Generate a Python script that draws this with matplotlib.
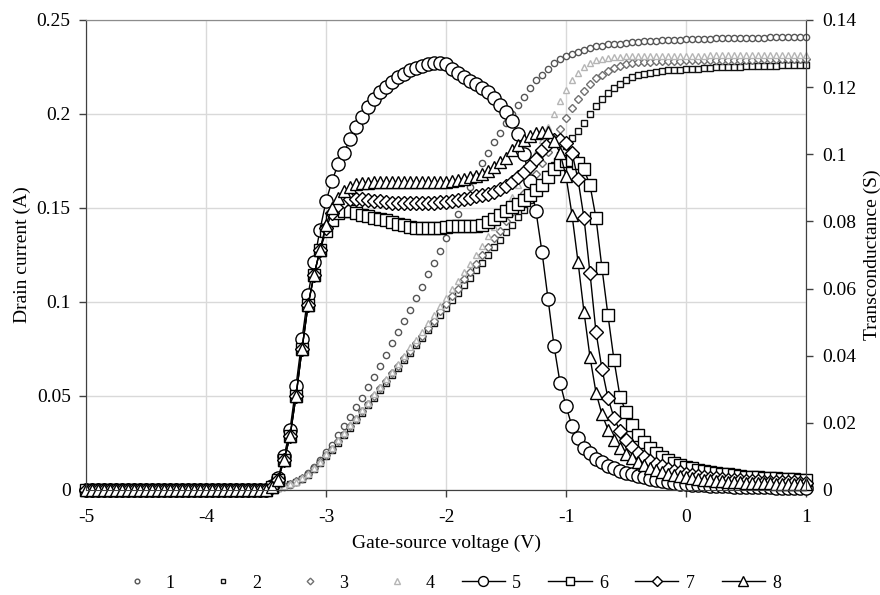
import numpy as np
import matplotlib
matplotlib.use('Agg')
import matplotlib.pyplot as plt

plt.rcParams['font.family'] = ['Liberation Serif', 'DejaVu Serif']

# gate-source voltage sweep, 50 mV steps
vgs = np.round(np.arange(-5.0, 1.0001, 0.05), 2)

# drain current (A), curves 1-4; flat at zero up to -3.5 V
id_1 = [0.0] * 31 + [
    0.0003, 0.0008, 0.0015, 0.0025, 0.004, 0.006, 0.009, 0.012, 0.016, 0.020,
    0.024, 0.029, 0.034, 0.039, 0.044, 0.049, 0.055, 0.060, 0.066, 0.072,
    0.078, 0.084, 0.090, 0.096, 0.102, 0.108, 0.115, 0.121, 0.127, 0.134,
    0.140, 0.147, 0.154, 0.161, 0.167, 0.174, 0.179, 0.185, 0.190, 0.195,
    0.200, 0.205, 0.209, 0.214, 0.218, 0.221, 0.224, 0.227, 0.229, 0.231,
    0.232, 0.233, 0.234, 0.235, 0.236, 0.236, 0.237, 0.237, 0.2375, 0.238,
    0.2382, 0.2385, 0.2387, 0.2389, 0.239, 0.2392, 0.2393, 0.2395, 0.2396, 0.2397,
    0.2398, 0.2399, 0.240, 0.2401, 0.2402, 0.2402, 0.2403, 0.2404, 0.2404, 0.2405,
    0.2405, 0.2406, 0.2406, 0.2407, 0.2407, 0.2408, 0.2408, 0.2409, 0.2409, 0.241]
id_2 = [0.0] * 31 + [
    0.0005, 0.0012, 0.002, 0.003, 0.0045, 0.006, 0.008, 0.011, 0.0145, 0.018,
    0.0215, 0.025, 0.029, 0.033, 0.037, 0.041, 0.045, 0.049, 0.053, 0.057,
    0.061, 0.065, 0.069, 0.073, 0.077, 0.081, 0.085, 0.089, 0.093, 0.097,
    0.101, 0.105, 0.109, 0.113, 0.117, 0.121, 0.125, 0.129, 0.133, 0.137,
    0.141, 0.145, 0.149, 0.154, 0.158, 0.163, 0.168, 0.173, 0.178, 0.183,
    0.187, 0.191, 0.195, 0.200, 0.204, 0.208, 0.211, 0.214, 0.216, 0.218,
    0.2195, 0.2205, 0.2215, 0.222, 0.2225, 0.223, 0.2232, 0.2234, 0.2236, 0.2238,
    0.224, 0.2242, 0.2244, 0.2246, 0.2248, 0.2249, 0.225, 0.2251, 0.2252, 0.2253,
    0.2254, 0.2255, 0.2256, 0.2256, 0.2257, 0.2258, 0.2258, 0.2259, 0.2259, 0.226]
id_3 = [0.0] * 31 + [
    0.0005, 0.0013, 0.0022, 0.0033, 0.0048, 0.0065, 0.0087, 0.0115, 0.015, 0.0185,
    0.022, 0.026, 0.030, 0.034, 0.038, 0.042, 0.046, 0.050, 0.054, 0.058,
    0.062, 0.066, 0.070, 0.074, 0.078, 0.082, 0.086, 0.090, 0.095, 0.099,
    0.103, 0.107, 0.112, 0.116, 0.120, 0.125, 0.129, 0.134, 0.138, 0.143,
    0.148, 0.153, 0.158, 0.163, 0.168, 0.174, 0.180, 0.186, 0.192, 0.198,
    0.203, 0.208, 0.212, 0.216, 0.219, 0.221, 0.223, 0.2245, 0.2255, 0.2265,
    0.227, 0.2274, 0.2277, 0.2279, 0.228, 0.2281, 0.2282, 0.2283, 0.2284, 0.2285,
    0.2285, 0.2286, 0.2286, 0.2287, 0.2287, 0.2288, 0.2288, 0.2288, 0.2289, 0.2289,
    0.2289, 0.229, 0.229, 0.229, 0.229, 0.2291, 0.2291, 0.2291, 0.2291, 0.2292]
id_4 = [0.0] * 31 + [
    0.0004, 0.001, 0.002, 0.003, 0.0045, 0.0062, 0.0085, 0.0115, 0.015, 0.019,
    0.0225, 0.0265, 0.0305, 0.0345, 0.0385, 0.0425, 0.0465, 0.051, 0.055, 0.059,
    0.063, 0.067, 0.0715, 0.076, 0.080, 0.084, 0.089, 0.093, 0.098, 0.102,
    0.107, 0.111, 0.116, 0.120, 0.125, 0.130, 0.135, 0.140, 0.145, 0.151,
    0.156, 0.162, 0.168, 0.174, 0.180, 0.186, 0.193, 0.200, 0.207, 0.213,
    0.218, 0.222, 0.225, 0.227, 0.2285, 0.2295, 0.230, 0.2303, 0.2305, 0.2306,
    0.2307, 0.2308, 0.2308, 0.2309, 0.2309, 0.231, 0.231, 0.231, 0.231, 0.231,
    0.2311, 0.2311, 0.2311, 0.2312, 0.2312, 0.2312, 0.2312, 0.2313, 0.2313, 0.2313,
    0.2313, 0.2314, 0.2314, 0.2314, 0.2314, 0.2315, 0.2315, 0.2315, 0.2315, 0.2315]

# transconductance (S), curves 5-8
gm_5 = [0.0] * 31 + [
    0.0012, 0.0035, 0.010, 0.018, 0.031, 0.045, 0.058, 0.068, 0.0775, 0.086,
    0.092, 0.097, 0.1005, 0.1045, 0.108, 0.111, 0.114, 0.1165, 0.1185, 0.120,
    0.1215, 0.123, 0.124, 0.125, 0.1257, 0.1263, 0.1268, 0.1271, 0.1272, 0.127,
    0.1255, 0.1243, 0.123, 0.1218, 0.1208, 0.1198, 0.1185, 0.1168, 0.1147, 0.1125,
    0.110, 0.106, 0.100, 0.092, 0.083, 0.0709, 0.057, 0.043, 0.032, 0.025,
    0.019, 0.0155, 0.0125, 0.011, 0.0093, 0.0082, 0.0072, 0.0065, 0.0058, 0.0052,
    0.0047, 0.0042, 0.0038, 0.0034, 0.003, 0.0027, 0.0024, 0.0021, 0.0019, 0.0017,
    0.0016, 0.0015, 0.0014, 0.0013, 0.0012, 0.0011, 0.0011, 0.001, 0.001, 0.0009,
    0.0009, 0.0008, 0.0008, 0.0008, 0.0007, 0.0007, 0.0007, 0.0006, 0.0006, 0.0006]
gm_6 = [0.0] * 31 + [
    0.001, 0.003, 0.009, 0.016, 0.028, 0.042, 0.055, 0.064, 0.0715, 0.077,
    0.0805, 0.0825, 0.083, 0.083, 0.0825, 0.082, 0.0815, 0.081, 0.0807, 0.0803,
    0.0798, 0.0793, 0.0788, 0.0784, 0.078, 0.0779, 0.0779, 0.078, 0.0781, 0.0783,
    0.0785, 0.0786, 0.0786, 0.0786, 0.0787, 0.079, 0.0798, 0.0808, 0.082, 0.083,
    0.0842, 0.0853, 0.0865, 0.0878, 0.0893, 0.0908, 0.0932, 0.0955, 0.0972, 0.098,
    0.0982, 0.0975, 0.0955, 0.0908, 0.081, 0.066, 0.052, 0.0387, 0.0278, 0.0232,
    0.0194, 0.0164, 0.0142, 0.0125, 0.0111, 0.0099, 0.0089, 0.0081, 0.0074, 0.0069,
    0.0065, 0.0061, 0.0058, 0.0055, 0.0052, 0.0049, 0.0047, 0.0044, 0.0042, 0.004,
    0.0039, 0.0038, 0.0037, 0.0036, 0.0035, 0.0034, 0.0033, 0.0032, 0.0031, 0.003]
gm_7 = [0.0] * 31 + [
    0.001, 0.003, 0.009, 0.016, 0.028, 0.042, 0.055, 0.064, 0.0715, 0.078,
    0.0825, 0.085, 0.0862, 0.0868, 0.0868, 0.0866, 0.0864, 0.0862, 0.086, 0.0858,
    0.0856, 0.0855, 0.0854, 0.0854, 0.0854, 0.0855, 0.0855, 0.0856, 0.0857, 0.0858,
    0.086, 0.0863, 0.0867, 0.0871, 0.0875, 0.0879, 0.0883, 0.0888, 0.0896, 0.0906,
    0.0918, 0.0932, 0.0948, 0.0965, 0.0985, 0.1012, 0.103, 0.1042, 0.1043, 0.1035,
    0.1005, 0.0925, 0.081, 0.0646, 0.047, 0.036, 0.0274, 0.0215, 0.0175, 0.0148,
    0.0128, 0.011, 0.0097, 0.0086, 0.0077, 0.007, 0.0064, 0.0058, 0.0053, 0.0049,
    0.0045, 0.0042, 0.0039, 0.0037, 0.0035, 0.0033, 0.0031, 0.003, 0.0029, 0.0028,
    0.0027, 0.0026, 0.0025, 0.0025, 0.0024, 0.0024, 0.0023, 0.0023, 0.0022, 0.0022]
gm_8 = [0.0] * 31 + [
    0.001, 0.003, 0.009, 0.016, 0.028, 0.042, 0.055, 0.064, 0.0715, 0.079,
    0.084, 0.087, 0.089, 0.0903, 0.091, 0.0913, 0.0915, 0.0917, 0.0918, 0.0918,
    0.0918, 0.0918, 0.0917, 0.0917, 0.0916, 0.0916, 0.0916, 0.0916, 0.0917, 0.0918,
    0.092, 0.0922, 0.0927, 0.0932, 0.0936, 0.0942, 0.095, 0.0962, 0.0976, 0.099,
    0.1012, 0.1028, 0.1042, 0.1055, 0.1062, 0.1066, 0.1066, 0.104, 0.1004, 0.0935,
    0.082, 0.068, 0.053, 0.0396, 0.029, 0.0225, 0.018, 0.0148, 0.0125, 0.0108,
    0.0094, 0.0083, 0.0074, 0.0066, 0.006, 0.0054, 0.0049, 0.0045, 0.0041, 0.0038,
    0.0035, 0.0033, 0.0031, 0.0029, 0.0027, 0.0026, 0.0025, 0.0024, 0.0023, 0.0022,
    0.0021, 0.0021, 0.002, 0.002, 0.0019, 0.0019, 0.0019, 0.0018, 0.0018, 0.0018]

labels = ['1', '2', '3', '4', '5', '6', '7', '8']

fig = plt.figure(figsize=(8.8, 5.95), dpi=100)
ax = fig.add_axes([86 / 880, 1 - 490 / 595, 720 / 880, 470 / 595])
ax2 = ax.twinx()

# drain current: open markers only
drain_styles = [
    (id_1, 'o', 4.5, '#555555'),
    (id_2, 's', 4.5, '#111111'),
    (id_3, 'D', 4.5, '#707070'),
    (id_4, '^', 5.0, '#b5b5b5'),
]
handles = []
for (vals, mk, ms, col), lab in zip(drain_styles, labels[:4]):
    h, = ax.plot(vgs, vals, linestyle='none', marker=mk, ms=ms, mfc='white',
                 mec=col, mew=1.0, clip_on=False, label=lab)
    handles.append(h)

# transconductance: black line with large open markers
gm_styles = [(gm_5, 'o', 9.5), (gm_6, 's', 8.5), (gm_7, 'D', 7.0), (gm_8, '^', 9.0)]
for (vals, mk, ms), lab in zip(gm_styles, labels[4:]):
    h, = ax2.plot(vgs, vals, color='black', lw=1.0, marker=mk, ms=ms, mfc='white',
                  mec='black', mew=1.0, clip_on=False, label=lab)
    handles.append(h)

ax.set_xlim(-5, 1)
ax.set_ylim(0, 0.25)
ax2.set_ylim(0, 0.14)
ax.set_xticks([-5, -4, -3, -2, -1, 0, 1])
ax.set_xticklabels(['-5', '-4', '-3', '-2', '-1', '0', '1'])
ax.set_yticks([0, 0.05, 0.1, 0.15, 0.2, 0.25])
ax.set_yticklabels(['0', '0.05', '0.1', '0.15', '0.2', '0.25'])
ax2.set_yticks([0, 0.02, 0.04, 0.06, 0.08, 0.1, 0.12, 0.14])
ax2.set_yticklabels(['0', '0.02', '0.04', '0.06', '0.08', '0.1', '0.12', '0.14'])

ax.grid(True, color='#d9d9d9', lw=1.0)
ax.set_axisbelow(True)

for a in (ax, ax2):
    a.tick_params(labelsize=14, length=5, width=1.0, color='#404040', direction='out', pad=6)
    a.spines['top'].set_color('#8c8c8c')
    for s in ('left', 'right', 'bottom'):
        a.spines[s].set_color('#404040')
ax.tick_params(axis='x', pad=9)
ax2.tick_params(axis='y', pad=7)

ax.set_xlabel('Gate-source voltage (V)', fontsize=14, labelpad=6)
ax.set_ylabel('Drain current (A)', fontsize=14, labelpad=4)
ax2.set_ylabel('Transconductance (S)', fontsize=14, labelpad=5)

fig.legend(handles, labels, loc='center', bbox_to_anchor=(448 / 880, 1 - 583 / 595),
           ncol=8, frameon=False, fontsize=13, handlelength=2.4, handletextpad=0.4,
           columnspacing=1.5, markerscale=0.75, borderpad=0.2)

fig.savefig('out.png', dpi=100)
